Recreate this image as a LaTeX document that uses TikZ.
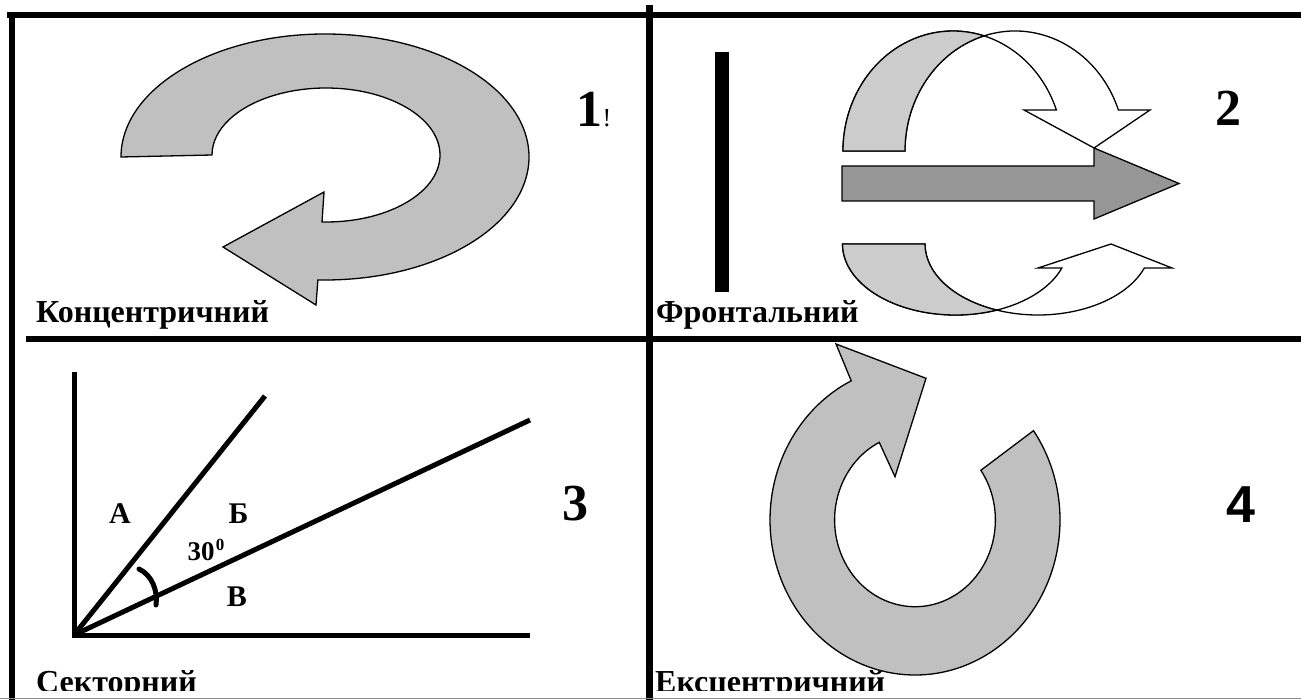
\documentclass[tikz,border=0pt]{standalone}
\usepackage{fontspec}
\setmainfont{Liberation Serif}
\newfontfamily\sansfnt{Liberation Sans}
\usetikzlibrary{calc}
\definecolor{arrowgray}{HTML}{C0C0C0}
\definecolor{ribbongray}{HTML}{CCCCCC}
\definecolor{shaftgray}{HTML}{969696}
\definecolor{edgegray}{HTML}{8C8C8C}
\begin{document}
\begin{tikzpicture}[x=1pt,y=-1pt,
  frameline/.style={line width=6.5pt},
  title/.style={font=\bfseries\fontsize{32}{36}\selectfont, inner sep=0pt, anchor=base west},
  num/.style={font=\bfseries\fontsize{52}{56}\selectfont, inner sep=0pt, anchor=base},
  lbl/.style={font=\bfseries\fontsize{30}{34}\selectfont, inner sep=0pt, anchor=base},
  graysh/.style={fill=arrowgray, draw=black, line width=1.3pt, line join=miter},
  ribbonback/.style={fill=ribbongray, draw=black, line width=1.3pt, line join=miter},
  ribbonfront/.style={fill=white, draw=black, line width=1.3pt, line join=miter},
  shaft/.style={fill=shaftgray, draw=black, line width=1.3pt, line join=miter},
  axisline/.style={line width=5pt},
  barline/.style={fill=black, draw=none}]
\useasboundingbox (0,0) rectangle (1301,700);

% ---------- panel 1 : concentric ----------
\coordinate (p1o) at (325,157);
\coordinate (p1i) at (326,155);
\filldraw[graysh] ($(p1o)+(180:204 and 123)$)
  arc[start angle=180, end angle=452, x radius=204, y radius=123]
  -- (316,305) -- (223,247) -- (324,192)
  -- ($(p1i)+(452:114 and 67)$)
  arc[start angle=452, end angle=180, x radius=114, y radius=67] -- cycle;
\node[title] (t1) at (36,322.5) {Концентричний};
\node[num] (n1) at (589.5,127) {1};
\node[font=\fontsize{26}{28}\selectfont, inner sep=0pt, anchor=base] (ex1) at (607,127) {!};

% ---------- panel 2 : frontal ----------
\fill[barline] (715,52) rectangle (729,292);
\coordinate (E1) at (953,151);
\coordinate (E2) at (1015,151);
\filldraw[ribbonfront] ($(E1)+(180:110 and 120)$)
  arc[start angle=180, end angle=340, x radius=110, y radius=120]
  -- (1024,110) -- (1094,148) -- (1150,110)
  -- ($(E2)+(340:110 and 120)$)
  arc[start angle=340, end angle=180, x radius=110, y radius=120] -- cycle;
\filldraw[ribbonback] ($(E1)+(180:110 and 120)$)
  arc[start angle=180, end angle=286.37, x radius=110, y radius=120]
  -- ($(E2)+(253.63:110 and 120)$)
  arc[start angle=253.63, end angle=180, x radius=110, y radius=120] -- cycle;
\coordinate (F1) at (955.5,244);
\coordinate (F2) at (1038,244);
\filldraw[ribbonfront] ($(F1)+(180:113 and 71)$)
  arc[start angle=180, end angle=19.76, x radius=113, y radius=71]
  -- (1038,268) -- (1111,244) -- (1172,268)
  -- ($(F2)+(19.76:113 and 71)$)
  arc[start angle=19.76, end angle=180, x radius=113, y radius=71] -- cycle;
\filldraw[ribbonback] ($(F1)+(180:113 and 71)$)
  arc[start angle=180, end angle=68.59, x radius=113, y radius=71]
  -- ($(F2)+(111.41:113 and 71)$)
  arc[start angle=111.41, end angle=180, x radius=113, y radius=71] -- cycle;
\filldraw[shaft] (842,166) -- (1094,166) -- (1094,148) -- (1179,183.5)
  -- (1094,219) -- (1094,201) -- (842,201) -- cycle;
\node[title] (t2) at (656,322.7) {Фронтальний};
\node[num] (n2) at (1228,126) {2};

% ---------- panel 3 : sector ----------
\coordinate (O) at (74,635);
\coordinate (Vtop) at (74,372);
\coordinate (Hend) at (530,635);
\coordinate (L1) at (265,396);
\coordinate (L2) at (530,420);
\draw[axisline] (Vtop) -- (O) -- (Hend);
\draw[axisline] (O) -- (L1);
\draw[axisline] (O) -- (L2);
\draw[line width=5pt, line cap=round] (139,569) .. controls (152,575) and (158,591) .. (156,605);
\node[lbl] (la) at (120,523) {А};
\node[lbl] (lb) at (238.5,523) {Б};
\node[lbl] (lv) at (237,606.5) {В};
\node[font=\bfseries\fontsize{27}{30}\selectfont, inner sep=0pt, anchor=base] (ang) at (201,560) {30};
\node[font=\bfseries\fontsize{17}{19}\selectfont, inner sep=0pt, anchor=base] (deg) at (220,550) {0};
\node[num] (n3) at (575,520) {3};

% ---------- bottom titles (clipped) ----------
\begin{scope}
\clip (0,0) rectangle (1301,690);
\node[title] (t3) at (36,692) {Секторний};
\node[title] (t4) at (655,692) {Ексцентричний};
\end{scope}

% ---------- panel 4 : eccentric ----------
\coordinate (p4) at (915,520);
\filldraw[graysh] ($(p4)+(-35.2:145 and 155)$)
  arc[start angle=-35.2, end angle=243.9, x radius=145, y radius=155]
  -- (836,344) -- (926,378.3) -- (895,476.7)
  -- ($(p4)+(243.6:80.4 and 86.7)$)
  arc[start angle=243.6, end angle=-35, x radius=80.4, y radius=86.7] -- cycle;
\node[font=\sansfnt\bfseries\fontsize{52}{56}\selectfont, inner sep=0pt, anchor=base] (n4) at (1240.5,522) {4};

% ---------- frame ----------
\coordinate (tl) at (7,15);
\coordinate (tr) at (1301,15);
\coordinate (lt) at (12,12);
\coordinate (lb0) at (12,700);
\coordinate (mt) at (649.5,5);
\coordinate (mb) at (649.5,700);
\coordinate (hl) at (26,339);
\coordinate (hr) at (1301,339);
\draw[frameline] (tl) -- (tr);
\draw[frameline] (lt) -- (lb0);
\draw[frameline] (mt) -- (mb);
\draw[frameline] (hl) -- (hr);
\coordinate (bl) at (0,698.5);
\coordinate (br) at (1301,698.5);
\draw[edgegray, line width=1.5pt] (bl) -- (br);
\end{tikzpicture}
\end{document}
